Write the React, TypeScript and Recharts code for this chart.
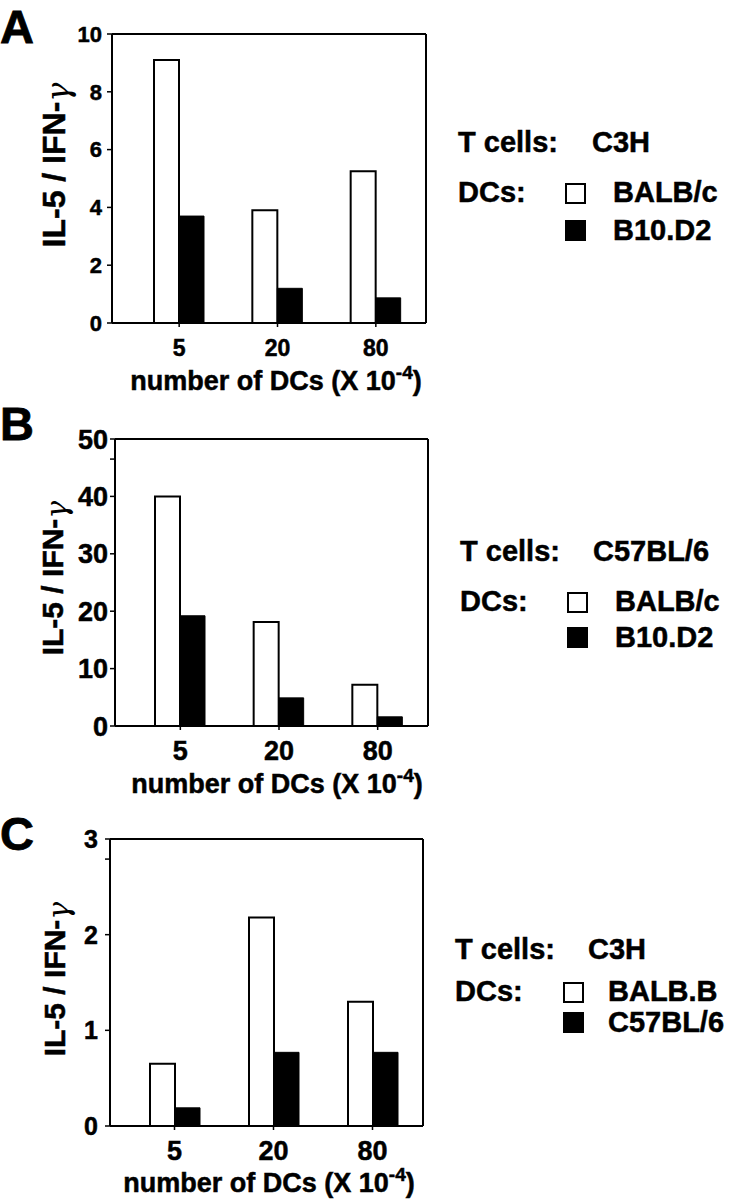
import { BarChart, Bar, XAxis, YAxis } from 'recharts'

const FONT = "'Liberation Sans', Arial, Helvetica, sans-serif"

// number of DCs (x 10^-4)
const dcNumbers = ['5', '20', '80']

// panel A: T cells C3H
const aBalbc = [9.1, 3.9, 5.25]
const aB10d2 = [3.7, 1.2, 0.87]
const aTicks = [0, 2, 4, 6, 8, 10]

// panel B: T cells C57BL/6
const bBalbc = [40, 18.1, 7.2]
const bB10d2 = [19.2, 4.9, 1.6]
const bTicks = [0, 10, 20, 30, 40, 50]
const bStrayTicks = [46.5]

// panel C: T cells C3H
const cBalbB = [0.65, 2.18, 1.3]
const cC57 = [0.19, 0.77, 0.77]
const cTicks = [0, 1, 2, 3]
const cStrayTicks = [2.79]

type Geo = {
  top: number
  height: number
  mTop: number
  mRight: number
  yAxisW: number
  xAxisH: number
  padL: number
  padR: number
  yTickFont: number
  yTickMargin: number
  xTickFont: number
  xTickMargin: number
  yTitleX: number
  yTitleY: number
  yTitleSize: number
  xTitleX: number
  xTitleY: number
  letterTop: number
  legendX: number
  valueX: number
  boxX: number
  nameX: number
  rows: number[]
}

const HEAVY = 0.5

// px/py instead of x/y, so the Label wrapper does not overwrite them
function YTitle({ px, py, size }: { px: number; py: number; size: number }) {
  return (
    <text
      transform={`translate(${px},${py}) rotate(-90)`}
      textAnchor="middle"
      fontFamily={FONT}
      fontWeight={700}
      fontSize={size}
      fill="#000"
      stroke="#000"
      strokeWidth={HEAVY}
    >
      IL-5 / IFN-
      <tspan fontWeight={400} fontFamily="'DejaVu Serif', serif" fontStyle="italic" strokeWidth={0} dy={4}>
        γ
      </tspan>
    </text>
  )
}

function XTitle({ px, py }: { px: number; py: number }) {
  return (
    <text
      x={px}
      y={py}
      textAnchor="middle"
      fontFamily={FONT}
      fontWeight={700}
      fontSize={27}
      fill="#000"
      stroke="#000"
      strokeWidth={HEAVY}
    >
      number of DCs (X 10
      <tspan dy={-11} fontSize={19}>
        -4
      </tspan>
      <tspan dy={11}>)</tspan>
    </text>
  )
}

const LEG = 29
const legText = (left: number, baseline: number): React.CSSProperties => ({
  position: 'absolute',
  left,
  top: baseline - 0.8465 * LEG,
  fontSize: LEG,
  lineHeight: `${LEG}px`,
  fontWeight: 700,
  fontFamily: FONT,
  whiteSpace: 'nowrap',
  color: '#000',
  WebkitTextStroke: `${HEAVY}px #000`,
})

function Panel({
  letter,
  white,
  black,
  yMax,
  ticks,
  strayTicks,
  tcells,
  whiteName,
  blackName,
  g,
}: {
  letter: string
  white: number[]
  black: number[]
  yMax: number
  ticks: number[]
  strayTicks: number[]
  tcells: string
  whiteName: string
  blackName: string
  g: Geo
}) {
  const data = dcNumbers.map((dc, i) => ({ dc, white: white[i], black: black[i] }))
  const allTicks = [...ticks, ...strayTicks].sort((a, b) => a - b)
  const axisLine = { stroke: '#000', strokeWidth: 2 }
  const tickText = (size: number) => ({
    fill: '#000',
    fontSize: size,
    fontWeight: 700,
    fontFamily: FONT,
    stroke: '#000',
    strokeWidth: HEAVY,
  })
  const [r1, r2, r3] = g.rows
  return (
    <>
      <div
        style={{
          position: 'absolute',
          left: 0,
          top: g.letterTop,
          fontFamily: FONT,
          fontWeight: 700,
          fontSize: 47,
          lineHeight: '47px',
          WebkitTextStroke: '0.8px #000',
        }}
      >
        {letter}
      </div>
      <div style={{ position: 'absolute', left: 0, top: g.top, width: 440, height: g.height }}>
        <BarChart
          width={440}
          height={g.height}
          data={data}
          margin={{ top: g.mTop - 1, right: g.mRight - 1, bottom: 0, left: 0 }}
          barGap={0}
          barSize={25}
        >
          <XAxis
            dataKey="dc"
            height={g.xAxisH}
            padding={{ left: g.padL, right: g.padR }}
            interval={0}
            axisLine={axisLine}
            tickLine={{ stroke: '#000', strokeWidth: 1.5 }}
            tickSize={4}
            tickMargin={g.xTickMargin}
            tick={tickText(g.xTickFont)}
            label={<XTitle px={g.xTitleX} py={g.xTitleY} />}
          />
          <XAxis
            xAxisId="frame"
            orientation="top"
            dataKey="dc"
            height={1}
            tick={false}
            tickLine={false}
            axisLine={axisLine}
          />
          <YAxis
            type="number"
            width={g.yAxisW}
            domain={[0, yMax]}
            ticks={allTicks}
            interval={0}
            tickFormatter={(v: number) => (ticks.includes(v) ? String(v) : '')}
            axisLine={axisLine}
            tickLine={{ stroke: '#000', strokeWidth: 1.5 }}
            tickSize={5}
            tickMargin={g.yTickMargin}
            tick={tickText(g.yTickFont)}
            label={<YTitle px={g.yTitleX} py={g.yTitleY} size={g.yTitleSize} />}
          />
          <YAxis
            yAxisId="frame"
            orientation="right"
            type="number"
            domain={[0, 1]}
            width={1}
            tick={false}
            tickLine={false}
            axisLine={axisLine}
          />
          <Bar dataKey="white" name={whiteName} fill="#fff" stroke="#000" strokeWidth={2} isAnimationActive={false} />
          <Bar dataKey="black" name={blackName} fill="#000" stroke="#000" strokeWidth={1} isAnimationActive={false} />
        </BarChart>
      </div>
      <div style={legText(g.legendX, r1)}>T cells:</div>
      <div style={legText(g.valueX, r1)}>{tcells}</div>
      <div style={legText(g.legendX, r2)}>DCs:</div>
      <div
        style={{
          position: 'absolute',
          left: g.boxX,
          top: r2 - 20,
          width: 17,
          height: 17,
          border: '2px solid #000',
          background: '#fff',
        }}
      />
      <div style={legText(g.nameX, r2)}>{whiteName}</div>
      <div style={{ position: 'absolute', left: g.boxX, top: r3 - 21, width: 21, height: 21, background: '#000' }} />
      <div style={legText(g.nameX, r3)}>{blackName}</div>
    </>
  )
}

const geoA: Geo = {
  top: 0,
  height: 400,
  mTop: 34,
  mRight: 14,
  yAxisW: 112,
  xAxisH: 77,
  padL: 18,
  padR: 1,
  yTickFont: 22,
  yTickMargin: 5,
  xTickFont: 23,
  xTickMargin: 13,
  yTitleX: 65,
  yTitleY: 165,
  yTitleSize: 32,
  xTitleX: 276,
  xTitleY: 390,
  letterTop: 3,
  legendX: 458,
  valueX: 592,
  boxX: 565,
  nameX: 613,
  rows: [153, 203, 241],
}

const geoB: Geo = {
  top: 390,
  height: 410,
  mTop: 49,
  mRight: 12,
  yAxisW: 115,
  xAxisH: 74,
  padL: 16,
  padR: 1,
  yTickFont: 27,
  yTickMargin: 2,
  xTickFont: 27,
  xTickMargin: 11,
  yTitleX: 63,
  yTitleY: 188,
  yTitleSize: 30,
  xTitleX: 277,
  xTitleY: 403,
  letterTop: 400,
  legendX: 460,
  valueX: 593,
  boxX: 567,
  nameX: 615,
  rows: [562, 612, 648],
}

const geoC: Geo = {
  top: 790,
  height: 410,
  mTop: 49,
  mRight: 17,
  yAxisW: 110,
  xAxisH: 74,
  padL: 15,
  padR: 1,
  yTickFont: 25,
  yTickMargin: 7,
  xTickFont: 27,
  xTickMargin: 11,
  yTitleX: 65,
  yTitleY: 189,
  yTitleSize: 30,
  xTitleX: 269,
  xTitleY: 402,
  letterTop: 810,
  legendX: 455,
  valueX: 588,
  boxX: 563,
  nameX: 608,
  rows: [960, 1002, 1033],
}

export default function App() {
  return (
    <div style={{ position: 'absolute', left: 0, top: 0, width: 730, height: 1200, background: '#fff' }}>
      <Panel
        letter="A"
        white={aBalbc}
        black={aB10d2}
        yMax={10}
        ticks={aTicks}
        strayTicks={[]}
        tcells="C3H"
        whiteName="BALB/c"
        blackName="B10.D2"
        g={geoA}
      />
      <Panel
        letter="B"
        white={bBalbc}
        black={bB10d2}
        yMax={50}
        ticks={bTicks}
        strayTicks={bStrayTicks}
        tcells="C57BL/6"
        whiteName="BALB/c"
        blackName="B10.D2"
        g={geoB}
      />
      <Panel
        letter="C"
        white={cBalbB}
        black={cC57}
        yMax={3}
        ticks={cTicks}
        strayTicks={cStrayTicks}
        tcells="C3H"
        whiteName="BALB.B"
        blackName="C57BL/6"
        g={geoC}
      />
    </div>
  )
}
